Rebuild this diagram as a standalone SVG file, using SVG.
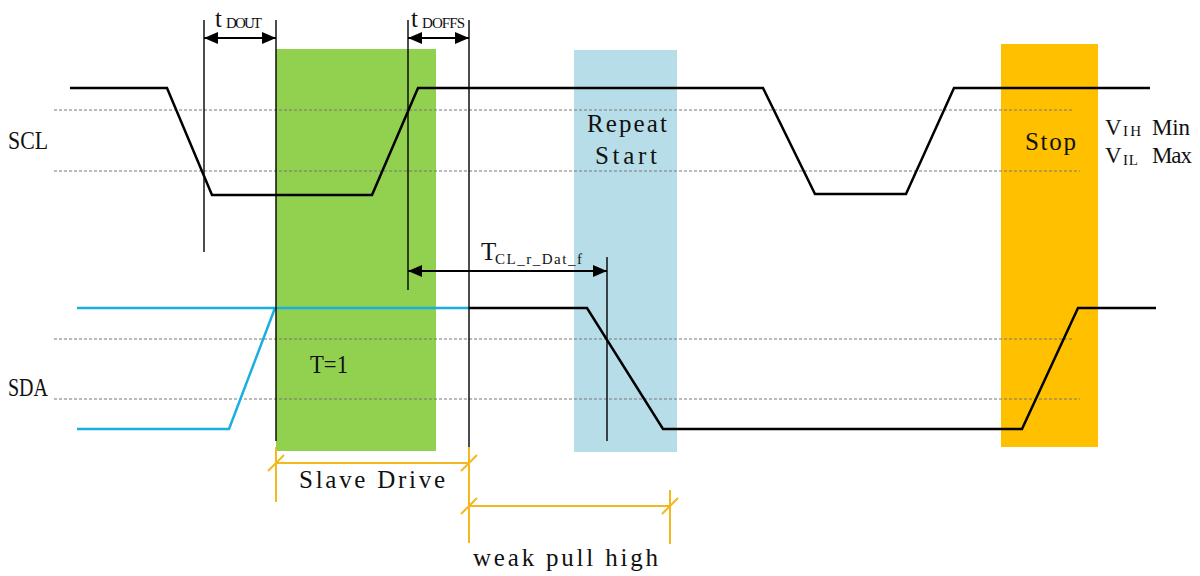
<svg xmlns="http://www.w3.org/2000/svg" width="1200" height="576" viewBox="0 0 1200 576">
<defs>
<marker id="ah" viewBox="0 0 14 12" refX="14" refY="6" markerWidth="14" markerHeight="12" markerUnits="userSpaceOnUse" orient="auto-start-reverse">
<path d="M0,0 L14,6 L0,12 Z" fill="#000"/>
</marker>
<style>
.txt{font-family:"Liberation Serif","DejaVu Serif",serif;font-size:25px;fill:#111}
.vt{font-size:23px}
.sub{font-size:15px}
.sig{fill:none;stroke:#000;stroke-width:2.5;stroke-linejoin:miter}
.sda{fill:none;stroke:#1AAFE0;stroke-width:2.5}
.thin{stroke:#000;stroke-width:1.4;fill:none}
.dot{stroke:#777;stroke-width:1;stroke-dasharray:3 2;fill:none}
.dim{stroke:#F2B81E;stroke-width:2;fill:none}
.arr{stroke:#000;stroke-width:2;fill:none}
</style>
</defs>
<rect width="1200" height="576" fill="#fff"/>

<g id="regions">
<rect id="slave-drive-box" x="276" y="49" width="160" height="402" fill="#92D050"/>
<rect id="repeat-start-box" x="574" y="50" width="103" height="402" fill="#B7DEE8"/>
<rect id="stop-box" x="1001" y="44" width="97" height="403" fill="#FFC000"/>
</g>

<g id="levels">
<line class="dot" x1="54" y1="110" x2="1072" y2="110"/>
<line class="dot" x1="54" y1="171" x2="1080" y2="171"/>
<line class="dot" x1="54" y1="339" x2="1072" y2="339"/>
<line class="dot" x1="54" y1="399" x2="1080" y2="399"/>
</g>

<g id="scl">
<polyline class="sig" points="70,88 167,88 212,195 372,195 418,88 763,88 815,194 906,194 954,88 1150,88"/>
</g>

<g id="sda">
<polyline class="sda" points="77,429 229,429 275,308"/>
<line class="sda" x1="77" y1="308" x2="469" y2="308"/>
<polyline class="sig" points="469,308 587,308 663,429 1022,429 1078,308 1156,308"/>
</g>

<g id="connectors">
<line class="thin" x1="204" y1="20" x2="204" y2="252"/>
<line class="thin" x1="276" y1="20" x2="276" y2="441"/>
<line class="thin" x1="408" y1="20" x2="408" y2="290"/>
<line class="thin" x1="469" y1="20" x2="469" y2="450"/>
<line class="thin" x1="607" y1="257" x2="607" y2="441"/>
<line class="arr" x1="204" y1="38" x2="276" y2="38" marker-start="url(#ah)" marker-end="url(#ah)"/>
<line class="arr" x1="408" y1="38" x2="469" y2="38" marker-start="url(#ah)" marker-end="url(#ah)"/>
<line class="arr" x1="408" y1="271" x2="607" y2="271" marker-start="url(#ah)" marker-end="url(#ah)"/>
<g id="slave-drive-dim">
<line class="dim" x1="276" y1="447" x2="276" y2="502"/>
<line class="dim" x1="469" y1="447" x2="469" y2="543"/>
<line class="dim" x1="276" y1="463" x2="469" y2="463"/>
<line class="dim" x1="268" y1="471" x2="284" y2="455"/>
<line class="dim" x1="461" y1="471" x2="477" y2="455"/>
</g>
<g id="weak-pull-dim">
<line class="dim" x1="670" y1="490" x2="670" y2="544"/>
<line class="dim" x1="469" y1="506" x2="670" y2="506"/>
<line class="dim" x1="461" y1="514" x2="477" y2="498"/>
<line class="dim" x1="662" y1="514" x2="678" y2="498"/>
</g>
</g>

<g id="labels">
<text class="txt" x="8" y="149" textLength="40" lengthAdjust="spacingAndGlyphs">SCL</text>
<text class="txt" x="8" y="396" textLength="40" lengthAdjust="spacingAndGlyphs">SDA</text>
<text class="txt" x="310" y="373" textLength="38" lengthAdjust="spacingAndGlyphs">T=1</text>
<text class="txt" x="587" y="132" textLength="80">Repeat</text>
<text class="txt" x="595" y="164" textLength="62">Start</text>
<text class="txt" x="1025" y="150" textLength="51">Stop</text>
<text class="txt vt" x="1105" y="135">V<tspan class="sub" x="1123" y="136" textLength="18">IH</tspan><tspan x="1152" y="135" textLength="38">Min</tspan></text>
<text class="txt vt" x="1105" y="163">V<tspan class="sub" x="1123" y="165" textLength="15">IL</tspan><tspan x="1152" y="163" textLength="40">Max</tspan></text>
<text class="txt" x="215" y="27">t<tspan class="sub" x="226" y="28" textLength="36">DOUT</tspan></text>
<text class="txt" x="411" y="27">t<tspan class="sub" x="422" y="28" textLength="43">DOFFS</tspan></text>
<text class="txt" x="481" y="260">T<tspan class="sub" x="495" y="264" textLength="87">CL_r_Dat_f</tspan></text>
<text class="txt" x="299" y="488" textLength="146">Slave Drive</text>
<text class="txt" x="473" y="566" textLength="185">weak pull high</text>
</g>
</svg>
